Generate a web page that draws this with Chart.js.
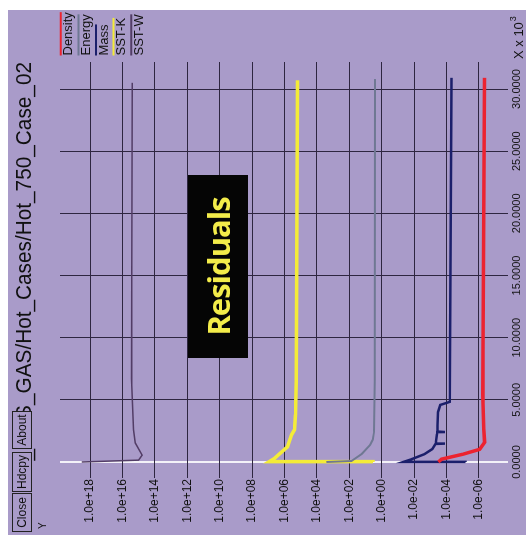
<!DOCTYPE html>
<html><head><meta charset="utf-8">
<script src="https://cdn.jsdelivr.net/npm/chart.js@4.4.1/dist/chart.umd.min.js"></script>
<style>
html,body{margin:0;padding:0;background:#fff;width:528px;height:535px;overflow:hidden;}
#frame{position:absolute;left:8px;top:10px;width:518px;height:525px;background:#a99bc9;overflow:hidden;}
#rot{position:absolute;left:0;top:0;width:525px;height:518px;transform-origin:0 0;transform:translate(0,525px) rotate(-90deg);}
#c{position:absolute;left:0;top:0;}
.btn{position:absolute;top:4px;height:18px;border:1px solid #222;font:12px "Liberation Sans",Arial,sans-serif;line-height:18px;text-align:center;background:#a99bc9;color:#111;}
#res{position:absolute;left:177px;top:180px;width:183px;height:60px;background:#050505;color:#f3ec4a;font:bold 31px "Open Sans",sans-serif;letter-spacing:-1px;line-height:60px;text-align:center;}
</style></head><body>
<div id="frame"><div id="rot">
<canvas id="c" width="525" height="518"></canvas>
<div class="btn" style="left:3px;width:37px">Close</div>
<div class="btn" style="left:43px;width:38px">Hdcpy</div>
<div class="btn" style="left:86px;width:36px">About</div>
<div id="res">Residuals</div>
</div></div>
<script>
// ---- data (iteration, residual) ----
const seriesNames = ['Density', 'Energy', 'Mass', 'SST-K', 'SST-W'];
const xTickValues = [0, 5000, 10000, 15000, 20000, 25000, 30000];
const yTickValues = [1e18, 1e16, 1e14, 1e12, 1e10, 1e8, 1e6, 1e4, 1e2, 1e0, 1e-2, 1e-4, 1e-6];

const densityIter = [0, 230, 630, 1020, 1590, 2670, 5400, 30900];
const densityRes  = [3.2e-4, 2.0e-4, 9.5e-6, 9.1e-7, 4.5e-7, 5.0e-7, 5.8e-7, 4.5e-7];

const energyIter = [0, 80, 650, 1380, 1790, 2440, 6500, 30800];
const energyRes  = [2.6e3, 74, 17, 5.1, 3.6, 2.95, 2.7, 2.6];

const massIter = [0, 10, 230, 630, 1040, 1450, 1460, 1500, 2260, 2400, 2410, 2450, 4020, 4590, 4840, 30900];
const massRes  = [6.9e-6, 4.5e-2, 1.4e-2, 2.3e-3, 7.6e-4, 4.8e-4, 1.26e-4, 4.7e-4, 3.9e-4, 3.8e-4, 1.26e-4, 3.7e-4, 3.4e-4, 2.45e-4, 6.3e-5, 5.0e-5];

const sstkIter = [0, 30, 270, 1220, 2200, 2600, 3820, 6500, 30700];
const sstkRes  = [3.5, 8.7e6, 4.3e6, 6.5e5, 3.6e5, 2.4e5, 2.1e5, 1.9e5, 1.6e5];

const sstwIter = [0, 150, 550, 1530, 2600, 6700, 30500];
const sstwRes  = [3.2e18, 1.0e15, 6.0e14, 1.6e15, 2.1e15, 2.75e15, 2.5e15];

const seriesColors = ['#ec2330', '#6f7893', '#1b1f6b', '#f4ec38', '#523d66'];
const seriesWidths = [3.5, 2, 2.5, 3.5, 1.5];

const iters = [densityIter, energyIter, massIter, sstkIter, sstwIter];
const ress = [densityRes, energyRes, massRes, sstkRes, sstwRes];

function pts(xs, ys) { return xs.map((x, i) => ({ x: x, y: ys[i] })); }
function fmtExp(v) {
  const e = Math.round(Math.log10(v));
  return '1.0e' + (e < 0 ? '-' : '+') + String(Math.abs(e)).padStart(2, '0');
}

Chart.defaults.font.family = '"Liberation Sans", Arial, sans-serif';

const extras = {
  id: 'extras',
  afterDraw(chart) {
    const ctx = chart.ctx;
    const lg = chart.legend;
    ctx.save();
    if (lg && lg.legendHitBoxes) {
      lg.legendHitBoxes.forEach((hb, i) => {
        const item = lg.legendItems[i];
        ctx.strokeStyle = seriesColors[item.datasetIndex];
        ctx.lineWidth = 2;
        const y = hb.top + hb.height / 2 - 8;
        ctx.beginPath();
        ctx.moveTo(hb.left + 6.5, y);
        ctx.lineTo(hb.left + hb.width, y);
        ctx.stroke();
      });
    }
    ctx.fillStyle = '#111';
    ctx.textBaseline = 'alphabetic';
    ctx.textAlign = 'left';
    ctx.font = '13px "Liberation Sans", Arial, sans-serif';
    const t = 'X x 10';
    ctx.fillText(t, 476, 515);
    const w = ctx.measureText(t).width;
    ctx.font = '9px "Liberation Sans", Arial, sans-serif';
    ctx.fillText('3', 476 + w + 1, 508);
    ctx.font = '10px "Liberation Sans", Arial, sans-serif';
    ctx.fillText('Y', 6, 38);
    ctx.restore();
  }
};

new Chart(document.getElementById('c'), {
  type: 'scatter',
  data: {
    datasets: seriesNames.map((n, i) => ({
      label: n,
      data: pts(iters[i], ress[i]),
      showLine: true,
      borderColor: seriesColors[i],
      backgroundColor: seriesColors[i],
      borderWidth: seriesWidths[i],
      pointRadius: 0,
      tension: 0
    }))
  },
  options: {
    responsive: false,
    animation: false,
    layout: { padding: 0 },
    plugins: {
      tooltip: { enabled: false },
      title: {
        display: true,
        text: '!!_GAS_GAS/Hot_Cases/Hot_750_Case_02',
        align: 'start',
        fullSize: false,
        color: '#111',
        font: { size: 22, weight: 'normal' },
        padding: { top: 4, bottom: 21.6 }
      },
      legend: {
        position: 'right',
        align: 'start',
        fullSize: false,
        maxWidth: 52,
        labels: {
          boxWidth: 0,
          boxHeight: 17.6,
          padding: 0,
          color: '#111',
          font: { size: 13 },
          generateLabels(chart) {
            const items = Chart.defaults.plugins.legend.labels.generateLabels(chart);
            items.forEach(it => { it.lineWidth = 0; it.fillStyle = 'rgba(0,0,0,0)'; it.strokeStyle = 'rgba(0,0,0,0)'; });
            return items;
          }
        }
      }
    },
    scales: {
      x: {
        type: 'linear',
        position: 'bottom',
        min: -805,
        max: 32172,
        afterBuildTicks: s => { s.ticks = xTickValues.map(v => ({ value: v })); },
        afterFit: s => { s.height = 18; },
        border: { display: false },
        grid: {
          drawTicks: false,
          color: c => (c.tick && c.tick.value === 0) ? '#f3f1f8' : '#2e2640',
          lineWidth: c => (c.tick && c.tick.value === 0) ? 2 : 1
        },
        ticks: {
          autoSkip: false,
          maxRotation: 0,
          padding: 2,
          color: '#111',
          font: { size: 11 },
          callback: v => (v / 1000).toFixed(4)
        }
      },
      y: {
        type: 'logarithmic',
        position: 'left',
        min: 1.62e-8,
        max: 7.1e19,
        afterBuildTicks: s => { s.ticks = yTickValues.map(v => ({ value: v })); },
        afterFit: s => { s.width = 63; },
        border: { display: false },
        grid: { color: '#2e2640', lineWidth: 1, tickLength: 6 },
        ticks: {
          autoSkip: false,
          padding: 1,
          color: '#111',
          font: { size: 12 },
          callback: v => fmtExp(v)
        }
      }
    }
  },
  plugins: [extras]
});
</script>
</body></html>
